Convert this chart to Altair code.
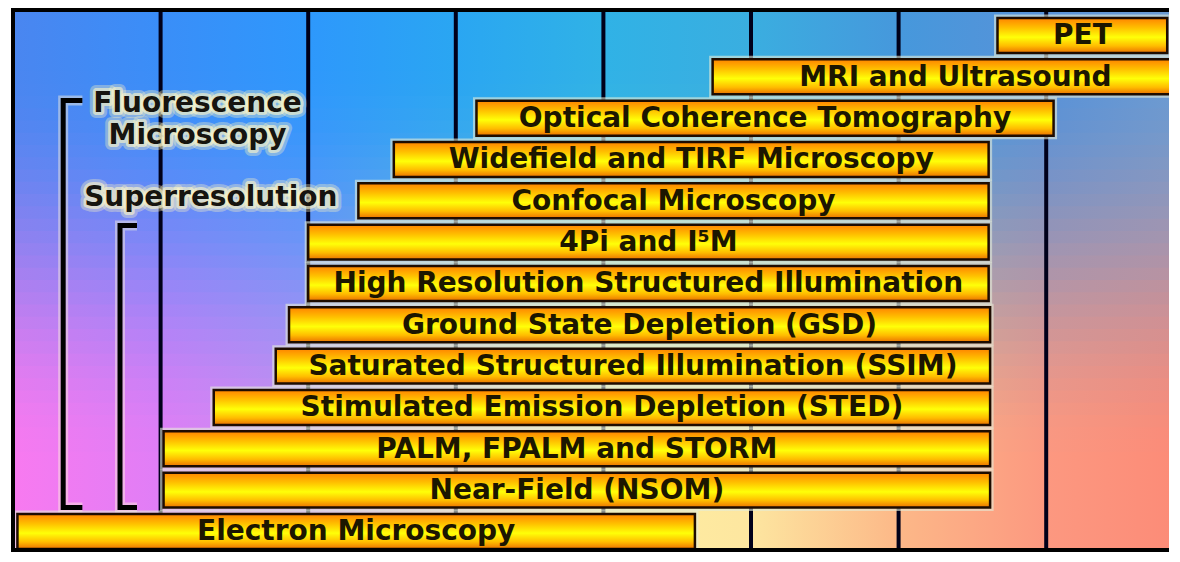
import altair as alt
import pandas as pd

# ---------------- data ----------------
techniques = [
    "PET",
    "MRI and Ultrasound",
    "Optical Coherence Tomography",
    "Widefield and TIRF Microscopy",
    "Confocal Microscopy",
    "4Pi and I\u2075M",
    "High Resolution Structured Illumination",
    "Ground State Depletion (GSD)",
    "Saturated Structured Illumination (SSIM)",
    "Stimulated Emission Depletion (STED)",
    "PALM, FPALM and STORM",
    "Near-Field (NSOM)",
    "Electron Microscopy",
]
range_start = [6.67, 4.74, 3.14, 2.58, 2.34, 2.00, 2.00, 1.87, 1.78, 1.36, 1.02, 1.02, 0.03]
range_end = [7.82, 8.03, 7.05, 6.61, 6.61, 6.61, 6.61, 6.62, 6.62, 6.62, 6.62, 6.62, 4.62]
row = list(range(13))

grid_decades = [1, 2, 3, 4, 5, 6, 7]

group_labels = ["Fluorescence", "Microscopy", "Superresolution"]
group_label_x = [1.25, 1.25, 1.34]
group_label_y = [1.66, 2.43, 3.94]

bracket_names = ["Fluorescence Microscopy", "Superresolution"]
bracket_x = [0.34, 0.725]
bracket_tick_x = [0.47, 0.84]
bracket_top = [1.57, 4.60]
bracket_bottom = [11.42, 11.42]

# ---------------- layout / style ----------------
W, H = 1156, 540
XMAX = W / 147.6
xscale = alt.Scale(domain=[0, XMAX], nice=False, zero=False)
yscale = alt.Scale(domain=[-0.617, 12.449], nice=False, zero=False, reverse=True)
HALF = 0.423

FONT = "DejaVu Sans"

# background colour anchors (top edge and bottom edge of the plot)
bg_stops = [0, 0.127, 0.255, 0.383, 0.51, 0.638, 0.766, 0.894, 1.0]
bg_top = ["#4a86f0", "#3a8ef8", "#2e98fc", "#2aa6f2", "#30b2e6", "#3aaee0", "#4698dc", "#5892d8", "#6a9ad2"]
bg_bottom = ["#f87af0", "#e07ef6", "#c890f0", "#e8c0c0", "#fff0a0", "#fde6a0", "#fcb888", "#fc9880", "#fc8c78"]


def hex2rgb(h):
    h = h.lstrip("#")
    return [int(h[i:i + 2], 16) for i in (0, 2, 4)]


def mix(a, b, w):
    ra, rb = hex2rgb(a), hex2rgb(b)
    return "#%02x%02x%02x" % tuple(int(round(ra[i] + (rb[i] - ra[i]) * w)) for i in range(3))


def weight(t):
    u = min(max((t - 0.1) / 0.75, 0.0), 1.0)
    return 3 * u * u - 2 * u * u * u


one = pd.DataFrame({"k": [0]})
layers = []

N = 44
for i in range(N):
    t = (i + 0.5) / N
    w = weight(t)
    stops = [
        {"offset": o, "color": mix(ct, cb, w)}
        for o, ct, cb in zip(bg_stops, bg_top, bg_bottom)
    ]
    grad = {"gradient": "linear", "x1": 0, "y1": 0, "x2": 1, "y2": 0, "stops": stops}
    y0 = i * H / N
    y1 = min((i + 1) * H / N + 1.0, H)
    layers.append(
        alt.Chart(one).mark_rect(fill=grad, strokeWidth=0).encode(
            x=alt.value(0), x2=alt.value(W), y=alt.value(y0), y2=alt.value(y1)
        )
    )

# vertical decade lines
grid_df = pd.DataFrame({"g": grid_decades})
layers.append(
    alt.Chart(grid_df).mark_rule(color="#00001a", strokeWidth=4).encode(
        x=alt.X("g:Q", scale=xscale, axis=None)
    )
)

# brackets
pts = []
for name, bx, tx, top, bot in zip(bracket_names, bracket_x, bracket_tick_x, bracket_top, bracket_bottom):
    pts += [
        {"b": name, "o": 0, "x": tx, "y": top},
        {"b": name, "o": 1, "x": bx, "y": top},
        {"b": name, "o": 2, "x": bx, "y": bot},
        {"b": name, "o": 3, "x": tx, "y": bot},
    ]
br_df = pd.DataFrame(pts)
br_enc = dict(
    x=alt.X("x:Q", scale=xscale, axis=None),
    y=alt.Y("y:Q", scale=yscale, axis=None),
    detail="b:N",
    order="o:Q",
)
layers.append(
    alt.Chart(br_df).mark_line(color="#fff4dc", strokeWidth=10, opacity=0.45, strokeJoin="miter").encode(**br_enc)
)
layers.append(
    alt.Chart(br_df).mark_line(color="#000000", strokeWidth=5, strokeJoin="miter", strokeCap="butt").encode(**br_enc)
)

# group labels with glow
gl_df = pd.DataFrame({"label": group_labels, "x": group_label_x, "y": group_label_y})
gl_enc = dict(
    x=alt.X("x:Q", scale=xscale, axis=None),
    y=alt.Y("y:Q", scale=yscale, axis=None),
    text="label:N",
)
layers.append(
    alt.Chart(gl_df).mark_text(
        font=FONT, fontSize=28, fontWeight="bold", align="center", baseline="middle",
        stroke="#fff6c0", strokeWidth=12, strokeOpacity=0.35, strokeJoin="round", fill="#fff6c0",
    ).encode(**gl_enc)
)
layers.append(
    alt.Chart(gl_df).mark_text(
        font=FONT, fontSize=28, fontWeight="bold", align="center", baseline="middle",
        stroke="#fff8c8", strokeWidth=6, strokeOpacity=0.6, strokeJoin="round", fill="#fff8c8",
    ).encode(**gl_enc)
)
layers.append(
    alt.Chart(gl_df).mark_text(
        font=FONT, fontSize=28, fontWeight="bold", align="center", baseline="middle", color="#161410",
    ).encode(**gl_enc)
)

# technique bars
bars_df = pd.DataFrame({"tech": techniques, "start": range_start, "end": range_end, "row": row})
bars_base = alt.Chart(bars_df).transform_calculate(
    top="datum.row - %f" % HALF,
    bot="datum.row + %f" % HALF,
    mid="(datum.start + datum.end) / 2",
)
bar_enc = dict(
    x=alt.X("start:Q", scale=xscale, axis=None),
    x2="end:Q",
    y=alt.Y("top:Q", scale=yscale, axis=None),
    y2="bot:Q",
)
layers.append(
    bars_base.mark_rect(fill=None, stroke="#e4ecd8", strokeWidth=7, strokeOpacity=0.6, clip=True).encode(**bar_enc)
)
bar_grad = {
    "gradient": "linear", "x1": 0, "y1": 0, "x2": 0, "y2": 1,
    "stops": [
        {"offset": 0.0, "color": "#ff8400"},
        {"offset": 0.28, "color": "#ffc000"},
        {"offset": 0.55, "color": "#ffff08"},
        {"offset": 0.8, "color": "#ffbc00"},
        {"offset": 1.0, "color": "#ea7000"},
    ],
}
layers.append(
    bars_base.mark_rect(fill=bar_grad, stroke="#1e0c00", strokeWidth=2.5, clip=True).encode(**bar_enc)
)
layers.append(
    bars_base.mark_text(
        font=FONT, fontSize=28, fontWeight="bold", align="center", baseline="middle", color="#1c1600", dy=1,
    ).encode(
        x=alt.X("mid:Q", scale=xscale, axis=None),
        y=alt.Y("row:Q", scale=yscale, axis=None),
        text="tech:N",
    )
)

# frame: top, left and bottom edges (the chart continues past the right edge)
layers.append(
    alt.Chart(one).mark_rule(color="#000000", strokeWidth=4).encode(
        x=alt.value(-2), x2=alt.value(W), y=alt.value(0)
    )
)
layers.append(
    alt.Chart(one).mark_rule(color="#000000", strokeWidth=4).encode(
        x=alt.value(-2), x2=alt.value(W), y=alt.value(H)
    )
)
layers.append(
    alt.Chart(one).mark_rule(color="#000000", strokeWidth=4).encode(
        x=alt.value(0), y=alt.value(-2), y2=alt.value(H + 2)
    )
)

chart = alt.layer(*layers).properties(
    width=W,
    height=H,
    padding={"left": 5, "top": 2, "right": 3, "bottom": 2},
    autosize=alt.AutoSizeParams(type="none"),
    background="white",
).configure_view(stroke=None)

chart.save("out.html", embed_options={"renderer": "svg", "actions": False})
